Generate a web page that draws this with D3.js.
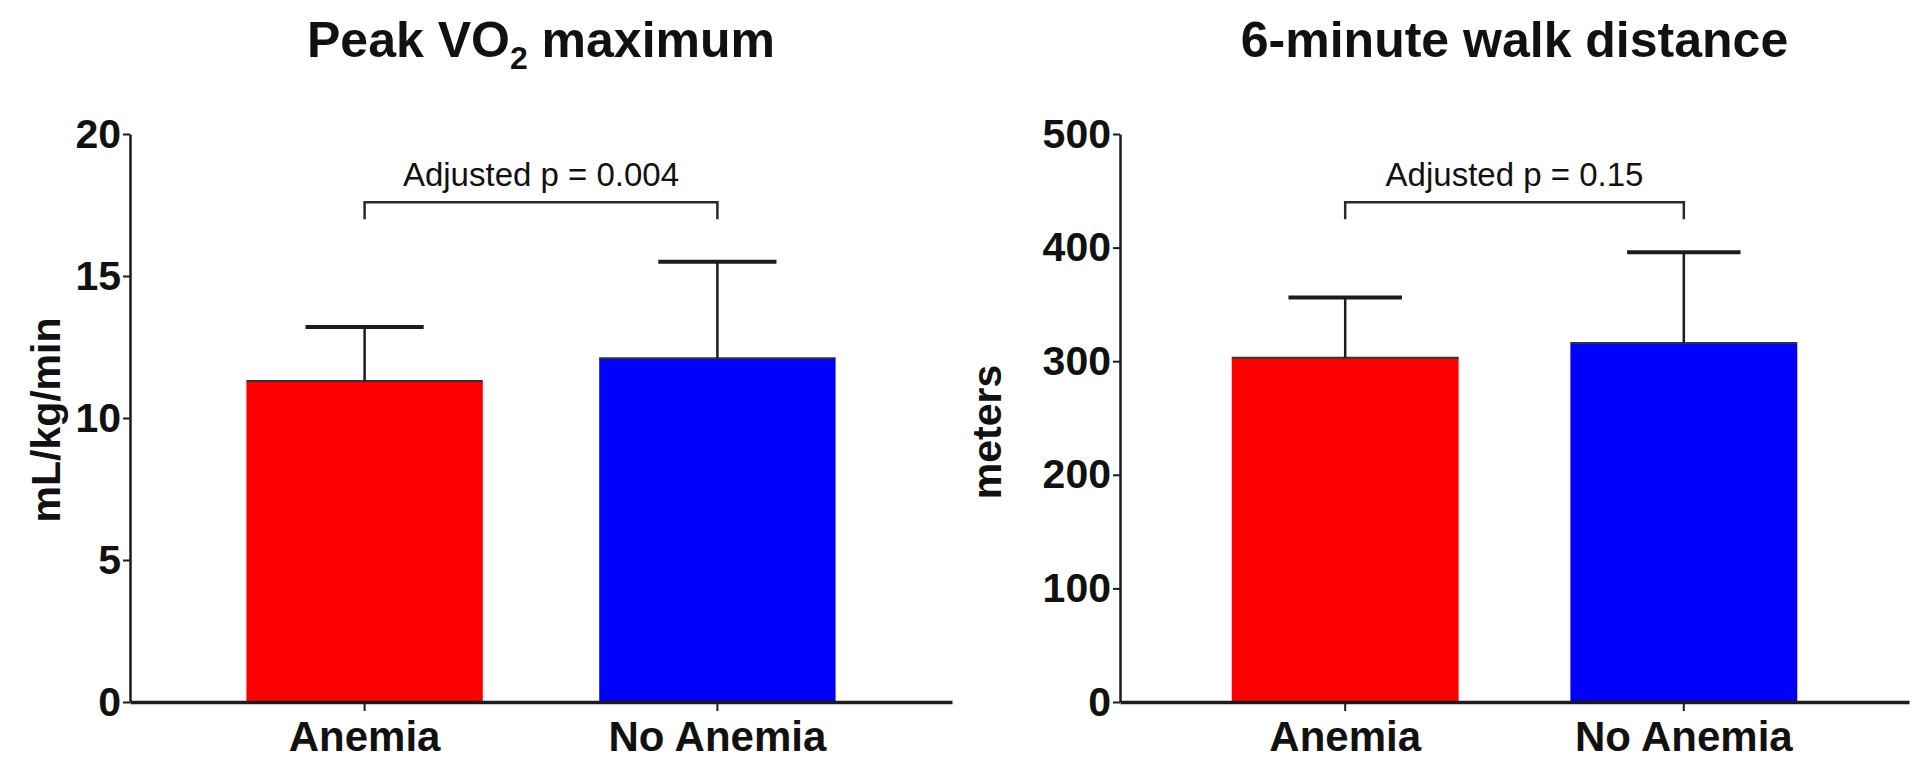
<!DOCTYPE html>
<html>
<head>
<meta charset="utf-8">
<script src="https://cdn.jsdelivr.net/npm/d3@7"></script>
<style>
  html, body { margin: 0; padding: 0; background: #ffffff; }
  svg { display: block; }
  text { font-family: "Liberation Sans", Arial, Helvetica, sans-serif; fill: #111; }
</style>
</head>
<body>
<svg id="chart" width="1920" height="773"></svg>
<script>
// ---- data ----
const categories = ["Anemia", "No Anemia"];
const barColors = ["#ff0000", "#0000ff"];

const vo2Means = [11.3, 12.1];
const vo2SD = [1.9, 3.4];
const vo2Ticks = [0, 5, 10, 15, 20];
const vo2Bracket = [17.6, 17.0];     // bracket level, tip level
const vo2PLabel = "Adjusted p = 0.004";

const walkMeans = [303, 316];
const walkSD = [53, 80];
const walkTicks = [0, 100, 200, 300, 400, 500];
const walkBracket = [440, 425];
const walkPLabel = "Adjusted p = 0.15";

const svg = d3.select("#chart");
const ink = "#1c1c1c";

function panel(opts) {
  const g = svg.append("g");
  const x = d3.scaleBand().domain(categories).range(opts.xRange).paddingInner(0.33).paddingOuter(0.33);
  const y = d3.scaleLinear().domain(opts.domain).range([702, 134]);

  // bars
  g.selectAll("rect.bar").data(categories).join("rect")
    .attr("class", "bar")
    .attr("x", d => x(d))
    .attr("width", x.bandwidth())
    .attr("y", (d, i) => y(opts.means[i]))
    .attr("height", (d, i) => y(0) - y(opts.means[i]))
    .attr("fill", (d, i) => barColors[i]);
  g.selectAll("line.bartop").data(categories).join("line")
    .attr("x1", d => x(d)).attr("x2", d => x(d) + x.bandwidth())
    .attr("y1", (d, i) => y(opts.means[i])).attr("y2", (d, i) => y(opts.means[i]))
    .attr("stroke", "#333").attr("stroke-width", 2);

  // error bars (upper only)
  const cx = d => x(d) + x.bandwidth() / 2;
  g.selectAll("line.stem").data(categories).join("line")
    .attr("x1", cx).attr("x2", cx)
    .attr("y1", (d, i) => y(opts.means[i]))
    .attr("y2", (d, i) => y(opts.means[i] + opts.sd[i]))
    .attr("stroke", ink).attr("stroke-width", 2.5);
  g.selectAll("line.cap").data(categories).join("line")
    .attr("x1", d => cx(d) - x.bandwidth() / 4)
    .attr("x2", d => cx(d) + x.bandwidth() / 4)
    .attr("y1", (d, i) => y(opts.means[i] + opts.sd[i]))
    .attr("y2", (d, i) => y(opts.means[i] + opts.sd[i]))
    .attr("stroke", ink).attr("stroke-width", 4);

  // y axis
  const ya = g.append("g").attr("transform", `translate(${opts.xRange[0]},0)`)
    .call(d3.axisLeft(y).tickValues(opts.ticks).tickSize(7).tickSizeOuter(0).tickPadding(2));
  ya.select(".domain").attr("stroke", ink).attr("stroke-width", 2.5);
  ya.selectAll(".tick line").attr("stroke", ink).attr("stroke-width", 2);
  ya.selectAll(".tick text").attr("font-size", 41).attr("font-weight", "bold")
    .attr("font-family", "Liberation Sans, Arial, sans-serif").attr("fill", "#111");

  // x axis
  const xa = g.append("g").attr("transform", `translate(0,${y(0)})`)
    .call(d3.axisBottom(x).tickSize(9).tickSizeOuter(0).tickPadding(10));
  xa.select(".domain").attr("stroke", ink).attr("stroke-width", 3.5);
  xa.selectAll(".tick line").attr("stroke", ink).attr("stroke-width", 2);
  xa.selectAll(".tick text").attr("font-size", 42).attr("font-weight", "bold")
    .attr("font-family", "Liberation Sans, Arial, sans-serif").attr("fill", "#111")
    .attr("dy", "0.71em");

  // y title
  g.append("text")
    .attr("transform", `translate(${opts.yTitleX},${opts.yTitleY}) rotate(-90)`)
    .attr("text-anchor", "middle")
    .attr("font-size", 41).attr("font-weight", "bold")
    .text(opts.yTitle);

  // chart title
  const t = g.append("text")
    .attr("x", (opts.xRange[0] + opts.xRange[1]) / 2)
    .attr("y", 57)
    .attr("text-anchor", "middle")
    .attr("font-size", 50).attr("font-weight", "bold");
  opts.title(t);

  // significance bracket
  const [a, b] = categories;
  const yb = y(opts.bracket[0]), yt = y(opts.bracket[1]);
  g.append("path")
    .attr("d", `M${cx(a)},${yt}V${yb}H${cx(b)}V${yt}`)
    .attr("fill", "none").attr("stroke", "#2a2a2a").attr("stroke-width", 2.5);
  g.append("text")
    .attr("x", (cx(a) + cx(b)) / 2)
    .attr("y", yb - 16)
    .attr("text-anchor", "middle")
    .attr("font-size", 33)
    .attr("fill", "#222")
    .text(opts.pLabel);
}

panel({
  xRange: [130, 952], domain: [0, 20], ticks: vo2Ticks,
  means: vo2Means, sd: vo2SD, bracket: vo2Bracket, pLabel: vo2PLabel,
  yTitle: "mL/kg/min", yTitleX: 60, yTitleY: 420,
  title: t => {
    t.append("tspan").text("Peak VO");
    t.append("tspan").attr("font-size", 32).attr("dy", 12).text("2");
    t.append("tspan").attr("dy", -12).text(" maximum");
  }
});

panel({
  xRange: [1120, 1909], domain: [0, 500], ticks: walkTicks,
  means: walkMeans, sd: walkSD, bracket: walkBracket, pLabel: walkPLabel,
  yTitle: "meters", yTitleX: 1001, yTitleY: 432,
  title: t => t.text("6-minute walk distance")
});
</script>
</body>
</html>
